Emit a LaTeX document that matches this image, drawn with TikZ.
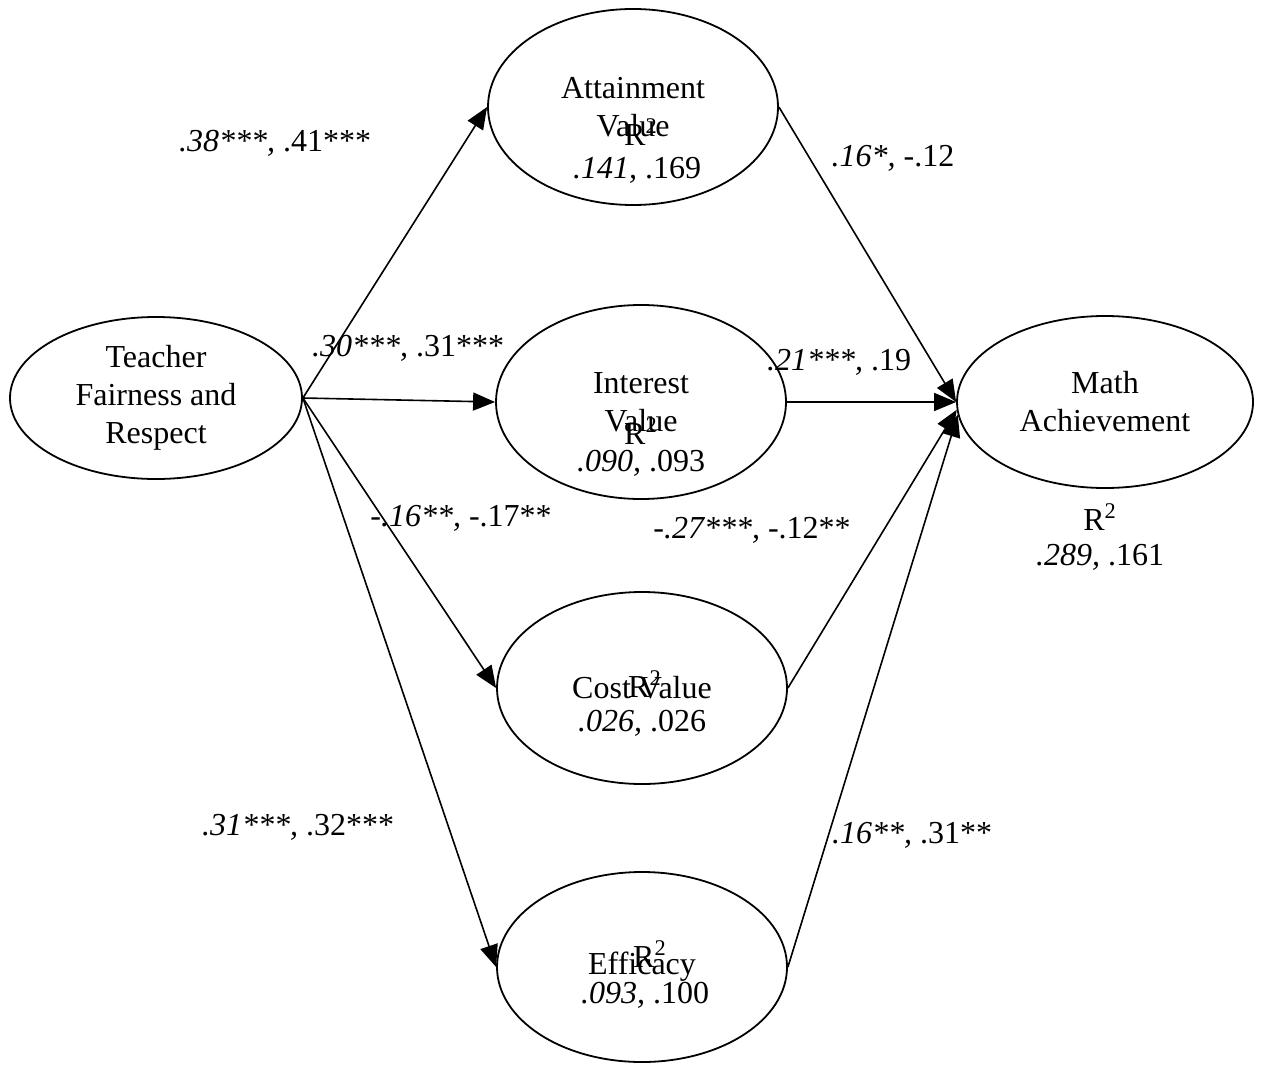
\documentclass[tikz,border=0pt]{standalone}
\usepackage{fontspec}
\setmainfont{Liberation Serif}
\usetikzlibrary{shapes.geometric,arrows.meta}
\begin{document}
\begin{tikzpicture}[x=0.5pt,y=-0.5pt,
  font=\fontsize{16}{19}\selectfont,
  var/.style={draw, ellipse, line width=0.9pt, inner sep=0pt, align=center},
  conn/.style={line width=0.8pt, -{Triangle[length=11pt,width=9pt]}},
  coef/.style={inner sep=0pt},
  rsq/.style={inner sep=0pt, align=center}]
\useasboundingbox (0,0) rectangle (1261,1064);

% latent variables
\node[var, minimum width=146pt, minimum height=81pt] (tfr) at (156,398) {Teacher\\Fairness and\\Respect};
\node[var, minimum width=145pt, minimum height=98pt] (att) at (633,107) {Attainment\\Value};
\node[var, minimum width=145pt, minimum height=97pt] (int) at (641,402) {Interest\\Value};
\node[var, minimum width=145pt, minimum height=96pt] (cost) at (642,688) {Cost Value};
\node[var, minimum width=145pt, minimum height=95pt] (eff) at (642,967) {Efficacy};
\node[var, minimum width=148pt, minimum height=86pt] (ma) at (1105,402) {Math\\Achievement};

% R squared texts
\node[rsq] (attr) at (641,132) {R\textsuperscript{2}};
\node[rsq] (attv) at (637,170) {\textit{.141,} .169};
\node[rsq] (intr) at (641,431) {R\textsuperscript{2}};
\node[rsq] (intv) at (641,463) {\textit{.090,} .093};
\node[rsq] (costr) at (645,684) {R\textsuperscript{2}};
\node[rsq] (costv) at (642,723) {\textit{.026,} .026};
\node[rsq] (effr) at (650,954) {R\textsuperscript{2}};
\node[rsq] (effv) at (645,995) {\textit{.093,} .100};
\node[rsq] (mar) at (1100,517) {R\textsuperscript{2}};
\node[rsq] (mav) at (1100,557) {\textit{.289,} .161};

% paths
\draw[conn] (tfr.east) -- (att.west);
\draw[conn] (tfr.east) -- (int.west);
\draw[conn] (tfr.east) -- (cost.west);
\draw[conn] (tfr.east) -- (eff.west);
\draw[conn] (att.east) -- (ma.west);
\draw[conn] (int.east) -- (ma.west);
\draw[conn] (cost.east) -- (ma.183);
\draw[conn] (eff.east) -- (ma.185);

% coefficients
\node[coef] (c1) at (275,143) {\textit{.38***,} .41***};
\node[coef] (c2) at (408,348) {\textit{.30***,} .31***};
\node[coef] (c3) at (461,518) {-\textit{.16**,} -.17**};
\node[coef] (c4) at (298,827) {\textit{.31***,} .32***};
\node[coef] (c5) at (893,158) {\textit{.16*,} -.12};
\node[coef] (c6) at (839,362) {\textit{.21***,} .19};
\node[coef] (c7) at (752,530) {-\textit{.27***,} -.12**};
\node[coef] (c8) at (912,835) {\textit{.16**,} .31**};
\end{tikzpicture}
\end{document}
